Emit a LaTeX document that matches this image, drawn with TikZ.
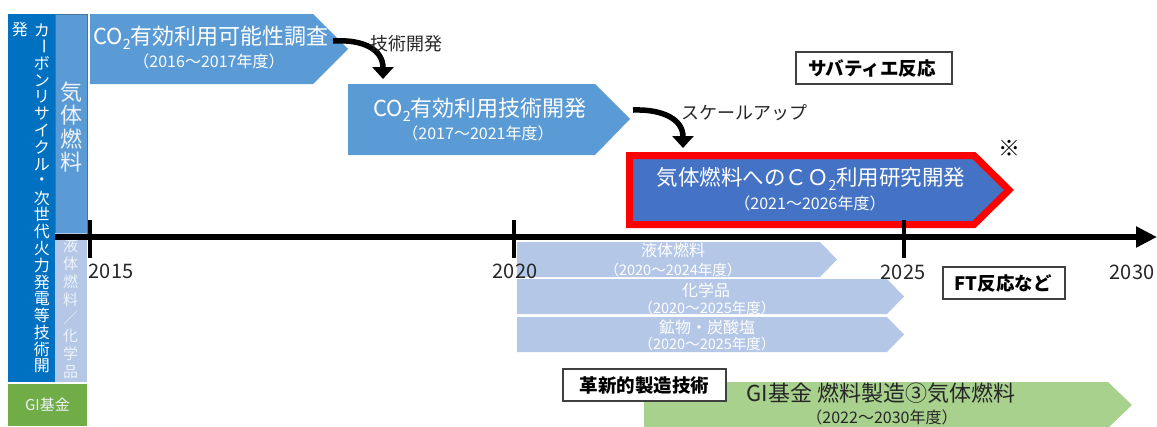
\documentclass[tikz,border=0pt]{standalone}
\usepackage{fontspec}
\usepackage{graphicx}
\setmainfont{Noto Sans CJK JP}
\usetikzlibrary{arrows.meta}
\definecolor{dblue}{HTML}{0070C0}
\definecolor{mblue}{HTML}{5B9BD5}
\definecolor{rblue}{HTML}{4472C4}
\definecolor{lblue}{HTML}{B4C7E7}
\definecolor{lgreen}{HTML}{A9D18E}
\definecolor{ggreen}{HTML}{70AD47}
\definecolor{ltxt}{HTML}{EEF3FA}
\definecolor{dtxt}{HTML}{262626}
\newcommand{\fs}[1]{\fontsize{#1}{#1}\selectfont}
\newcommand{\subtwo}{\raisebox{-0.22em}{\scalebox{0.65}{2}}}
\newcommand{\vbar}{\rotatebox[origin=c]{-90}{ー}}
\begin{document}
\begin{tikzpicture}[x=1pt,y=-1pt,
  txt/.style={inner sep=0pt, text=white},
  dark/.style={inner sep=0pt, text=dtxt},
  tagbox/.style={draw=black!75, line width=1.2pt, fill=white},
  tagtxt/.style={inner sep=0pt, text=black, font=\fs{18.5}\bfseries},
  curvy/.style={line width=5.5pt, -{Triangle[length=12pt,width=21pt]}},
  tick/.style={line width=4.5pt},
  axlabel/.style={inner sep=0pt, text=dtxt, font=\fs{20}},
  vch/.style={inner sep=0pt, text=white, font=\fs{16}},
  vchm/.style={inner sep=0pt, text=ltxt, font=\fs{22}},
  vchl/.style={inner sep=0pt, text=ltxt, font=\fs{15}}]
\useasboundingbox (0,0) rectangle (1157,426);

% left column
\fill[dblue] (8,14) rectangle (55,382);
\fill[mblue] (55,14) rectangle (87,233);
\draw[mblue!75!black, line width=0.8pt] (55,14) rectangle (87,233);
\fill[lblue] (55,233) rectangle (87,382);
\fill[ggreen] (8,384) rectangle (87,426);
\node[txt, font=\fs{15}, text=ltxt] (gi) at (47.5,405) {GI基金};

\node[vch] (lhatsu) at (20,29) {発};
\foreach \c [count=\i from 0] in {カ,{\vbar},ボ,ン,リ,サ,イ,ク,ル,・,次,世,代,火,力,発,電,等,技,術,開}
  \node[vch] (lc\i) at (42,30+16.8*\i) {\c};
\foreach \c [count=\i from 0] in {気,体,燃,料}
  \node[vchm] (mc\i) at (71,92+23.3*\i) {\c};
\foreach \c [count=\i from 0] in {液,体,燃,料,／,化,学,品}
  \node[vchl] (sc\i) at (70.5,246+18*\i) {\c};

% box 1
\fill[mblue] (90,14) -- (313,14) -- (348,49) -- (313,84) -- (90,84) -- cycle;
\node[txt, font=\fs{22}] (b1t) at (211,38) {CO\subtwo 有効利用可能性調査};
\node[txt, font=\fs{16}] (b1s) at (209,61) {（2016～2017年度）};

% box 2
\fill[mblue] (348,84) -- (595,84) -- (630,119) -- (595,155) -- (348,155) -- cycle;
\node[txt, font=\fs{22}] (b2t) at (480,110) {CO\subtwo 有効利用技術開発};
\node[txt, font=\fs{16}] (b2s) at (478,133) {（2017～2021年度）};

% red box
\draw[red, fill=rblue, line width=7pt, line join=miter] (629.5,155.5) -- (974,155.5) -- (1009,190) -- (974,224.5) -- (629.5,224.5) -- cycle;
\node[txt, font=\fs{21.5}] (b3t) at (811,179) {気体燃料へのＣＯ\subtwo 利用研究開発};
\node[txt, font=\fs{16}] (b3s) at (810,203) {（2021～2026年度）};
\node[dark, font=\fs{22}, text=black] (kome) at (1009,148) {※};

% light blue boxes
\fill[lblue] (517,242) -- (820,242) -- (837,259.5) -- (820,277) -- (517,277) -- cycle;
\node[txt, font=\fs{16}] (l1t) at (673,250) {液体燃料};
\node[txt, font=\fs{14.5}] (l1s) at (673,270) {（2020～2024年度）};
\fill[lblue] (517,279) -- (887,279) -- (904,296.5) -- (887,314) -- (517,314) -- cycle;
\node[txt, font=\fs{16}] (l2t) at (706,290) {化学品};
\node[txt, font=\fs{14.5}] (l2s) at (707,308) {（2020～2025年度）};
\fill[lblue] (517,317) -- (887,317) -- (904,334.5) -- (887,352) -- (517,352) -- cycle;
\node[txt, font=\fs{16}] (l3t) at (707,327) {鉱物・炭酸塩};
\node[txt, font=\fs{14.5}] (l3s) at (707,344) {（2020～2025年度）};

% green box
\fill[lgreen] (644,382) -- (1108,382) -- (1132,405) -- (1108,428) -- (644,428) -- cycle;
\node[dark, font=\fs{22}] (gt) at (881,393) {GI基金 燃料製造③気体燃料};
\node[dark, font=\fs{16}] (gs) at (882,417) {（2022～2030年度）};

% tag boxes
\draw[tagbox] (796,52) rectangle (952,84);
\node[tagtxt] (saba) at (872,68) {サバティエ反応};
\draw[tagbox] (943,267) rectangle (1065,299);
\node[tagtxt] (ft) at (1003,283) {FT反応など};
\draw[tagbox] (563,369) rectangle (726,401);
\node[tagtxt] (kakushin) at (644.5,385) {革新的製造技術};

% axis
\coordinate (ax0) at (55,237);
\coordinate (ax1) at (1157,237);
\draw[line width=6.5pt, -{Triangle[length=21pt,width=20pt]}] (ax0) -- (ax1);
\foreach \x/\n in {90/a,514/b,904/c}
  \draw[tick] (\x,220) coordinate (t\n1) -- (\x,258) coordinate (t\n2);
\node[axlabel] (y15) at (111,271) {2015};
\node[axlabel] (y20) at (515,271) {2020};
\node[axlabel] (y25) at (903,272) {2025};
\node[axlabel] (y30) at (1132,272) {2030};

% curved arrows
\coordinate (a1s) at (333,41);
\coordinate (a1e) at (383,79);
\draw[curvy] (a1s) .. controls (364,39) and (383,50) .. (a1e);
\node[dark, font=\fs{18}] (gk) at (406,44) {技術開発};
\coordinate (a2s) at (633,110);
\coordinate (a2e) at (683,148);
\draw[curvy] (a2s) .. controls (664,109) and (683,120) .. (a2e);
\node[dark, font=\fs{18}] (su) at (744,113) {スケールアップ};
\end{tikzpicture}
\end{document}
